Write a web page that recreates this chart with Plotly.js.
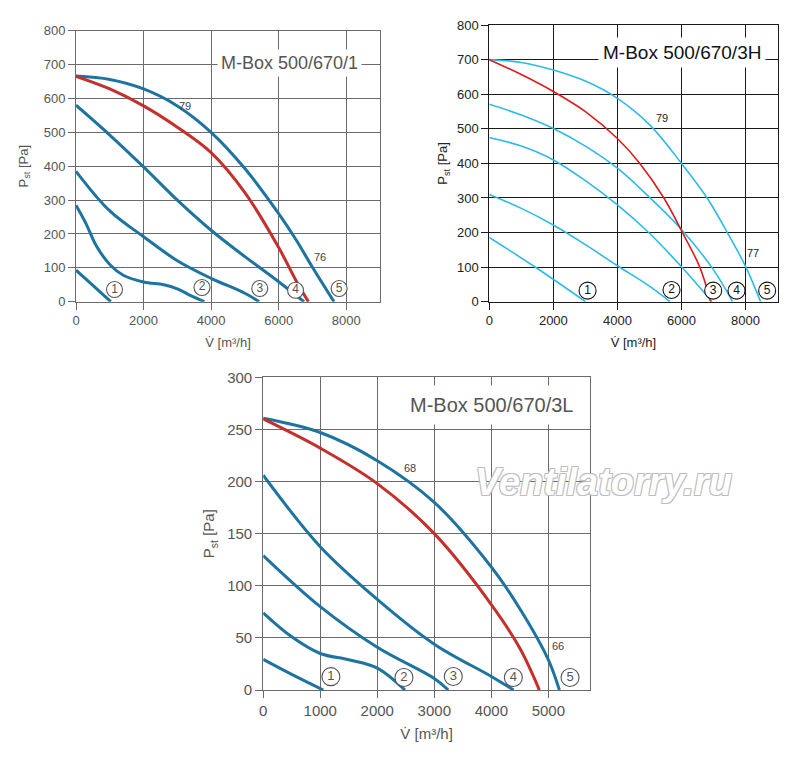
<!DOCTYPE html>
<html><head><meta charset="utf-8">
<script src="https://cdn.plot.ly/plotly-3.0.1.min.js"></script>
<style>html,body{margin:0;padding:0;background:#fff}#chart{width:800px;height:760px}</style>
</head><body><div id="chart"></div>
<script>
// ---------- Chart A: M-Box 500/670/1 ----------
const titleA = "M-Box 500/670/1";
const a1_flow = [0, 500, 1030];
const a1_pres = [93, 48, 0];
const a2_flow = [0, 300, 600, 1000, 1400, 2000, 2600, 3000, 3400, 3800];
const a2_pres = [285, 230, 165, 110, 78, 58, 50, 38, 18, 0];
const a3_flow = [0, 1000, 2000, 3000, 4000, 5000, 5420];
const a3_pres = [385, 268, 192, 121, 69, 25, 0];
const a4_flow = [0, 1000, 2000, 3000, 4000, 5000, 6000, 6750];
const a4_pres = [580, 492, 398, 300, 211, 133, 59, 0];
const a5_flow = [0, 1000, 2000, 3000, 4000, 5000, 6000, 6500, 7000, 7640];
const a5_pres = [666, 656, 628, 578, 500, 393, 260, 185, 102, 0];
const aR_flow = [0, 1000, 2000, 3000, 4000, 5000, 6000, 6500, 6880];
const aR_pres = [665, 628, 578, 515, 440, 322, 160, 65, 0];
const aLbl_flow = [1140, 3730, 5440, 6500, 7790];
const aLbl_pres = [36, 42, 39, 34, 39];
const aNoise_flow = [3240, 7230];
const aNoise_pres = [579, 133];
const aNoise_text = ["79", "76"];

// ---------- Chart B: M-Box 500/670/3H ----------
const titleB = "M-Box 500/670/3H";
const b1_flow = [0, 1500, 3006];
const b1_pres = [186, 96, 0];
const b2_flow = [0, 1000, 2000, 3000, 4000, 5000, 5640];
const b2_pres = [310, 270, 222, 165, 104, 45, 0];
const b3_flow = [0, 1000, 2000, 3000, 4000, 5000, 6000, 6950];
const b3_pres = [475, 450, 410, 350, 280, 198, 101, 0];
const b4_flow = [0, 1000, 2000, 3000, 4000, 5000, 6000, 7000, 7594];
const b4_pres = [571, 540, 501, 450, 386, 302, 209, 92, 0];
const b5_flow = [0, 1000, 2000, 3000, 4000, 5000, 6000, 6800, 7430, 8010, 8470];
const b5_pres = [700, 692, 670, 638, 588, 512, 400, 300, 200, 100, 0];
const bR_flow = [0, 1000, 2000, 3000, 4000, 4700, 5450, 6030, 6570, 6910];
const bR_pres = [700, 657, 608, 550, 472, 400, 300, 200, 100, 0];
const bLbl_flow = [3068, 5689, 6989, 7717, 8674];
const bLbl_pres = [32, 34, 32, 32, 32];
const bNoise_flow = [5380, 8240];
const bNoise_pres = [530, 140];
const bNoise_text = ["79", "77"];

// ---------- Chart C: M-Box 500/670/3L ----------
const titleC = "M-Box 500/670/3L";
const c1_flow = [0, 500, 1053];
const c1_pres = [29.4, 15, 0];
const c2_flow = [0, 500, 1000, 1500, 2000, 2485];
const c2_pres = [74, 51, 35, 29, 21, 0];
const c3_flow = [0, 1000, 2000, 3000, 3245];
const c3_pres = [129, 80, 41, 11, 0];
const c4_flow = [0, 1000, 2000, 3000, 4000, 4390];
const c4_pres = [206, 137.5, 87, 44, 13, 0];
const c5_flow = [0, 1000, 2000, 3000, 4000, 4500, 5000, 5193];
const c5_pres = [260.6, 247, 220, 180, 118, 78, 29, 0];
const cR_flow = [0, 1000, 2000, 3000, 4000, 4500, 4842];
const cR_pres = [260, 232, 198, 150, 82, 40, 0];
const cLbl_flow = [1187, 2468, 3333, 4386, 5380];
const cLbl_pres = [12.8, 12, 13, 12, 12];
const cNoise_flow = [2573, 5175];
const cNoise_pres = [213, 42.5];
const cNoise_text = ["68", "66"];

const circleText = ["1", "2", "3", "4", "5"];
const watermark = "Ventilatorry.ru";
const xTitle = "V\u0307 [m³/h]";
const yTitle = "P<sub>st</sub> [Pa]";

const FONT = "Liberation Sans, Arial, sans-serif";
const traces = [];
const annotations = [];
function curve(x, y, ax, color, width) {
  traces.push({x: x, y: y, xaxis: 'x' + ax, yaxis: 'y' + ax, type: 'scatter', mode: 'lines',
    line: {color: color, width: width, shape: 'spline', smoothing: 1}, hoverinfo: 'skip', showlegend: false});
}
function circles(x, y, ax, size, col, fs) {
  traces.push({x: x, y: y, xaxis: 'x' + ax, yaxis: 'y' + ax, type: 'scatter', mode: 'markers+text',
    text: circleText, textposition: 'middle center',
    textfont: {family: FONT, size: fs, color: col},
    marker: {symbol: 'circle', size: size, color: '#ffffff', line: {color: col, width: 1.1}},
    hoverinfo: 'skip', showlegend: false});
}
function noise(x, y, t, ax, col) {
  for (let i = 0; i < x.length; i++) {
    annotations.push({text: t[i], xref: 'x' + ax, yref: 'y' + ax, x: x[i], y: y[i], showarrow: false,
      xanchor: 'center', yanchor: 'middle', font: {family: FONT, size: 11, color: col}});
  }
}

const TEAL = '#1e74a0', REDD = '#c4302b';
const CYAN = '#2bbbe6', REDB = '#e01b1b';
// A
[[a1_flow,a1_pres],[a2_flow,a2_pres],[a3_flow,a3_pres],[a4_flow,a4_pres],[a5_flow,a5_pres]].forEach(p => curve(p[0], p[1], '', TEAL, 3));
curve(aR_flow, aR_pres, '', REDD, 3);
circles(aLbl_flow, aLbl_pres, '', 16, '#555', 12);
noise(aNoise_flow, aNoise_pres, aNoise_text, '', '#444');
// B
[[b1_flow,b1_pres],[b2_flow,b2_pres],[b3_flow,b3_pres],[b4_flow,b4_pres],[b5_flow,b5_pres]].forEach(p => curve(p[0], p[1], '2', CYAN, 1.6));
curve(bR_flow, bR_pres, '2', REDB, 1.6);
circles(bLbl_flow, bLbl_pres, '2', 17, '#111', 12);
noise(bNoise_flow, bNoise_pres, bNoise_text, '2', '#222');
// C
[[c1_flow,c1_pres],[c2_flow,c2_pres],[c3_flow,c3_pres],[c4_flow,c4_pres],[c5_flow,c5_pres]].forEach(p => curve(p[0], p[1], '3', TEAL, 3));
curve(cR_flow, cR_pres, '3', REDD, 3);
circles(cLbl_flow, cLbl_pres, '3', 18, '#555', 13);
noise(cNoise_flow, cNoise_pres, cNoise_text, '3', '#444');

function xax(dom, range, dtick, grid, tcol, fs, anchor) {
  return {domain: dom, range: range, dtick: dtick, tick0: 0, anchor: anchor, showgrid: true, gridcolor: grid, gridwidth: 1,
    zeroline: false, showline: true, linecolor: grid, linewidth: 1, mirror: true,
    ticks: 'outside', ticklen: 7, tickcolor: grid, tickfont: {family: FONT, size: fs, color: tcol},
    title: {text: xTitle, font: {family: FONT, size: fs, color: tcol}, standoff: 10}, fixedrange: true};
}
function yax(dom, range, dtick, grid, tcol, fs, anchor, standoff) {
  return {domain: dom, range: range, dtick: dtick, tick0: 0, anchor: anchor, showgrid: true, gridcolor: grid, gridwidth: 1,
    zeroline: false, showline: true, linecolor: grid, linewidth: 1, mirror: true,
    ticks: 'outside', ticklen: 7, tickcolor: grid, tickfont: {family: FONT, size: fs, color: tcol},
    title: {text: yTitle, font: {family: FONT, size: fs, color: tcol}, standoff: standoff}, fixedrange: true};
}

annotations.push(
  {text: titleA, xref: 'x', yref: 'y', x: 6320, y: 704, showarrow: false, xanchor: 'center', yanchor: 'middle',
   bgcolor: '#ffffff', borderpad: 3, font: {family: FONT, size: 18, color: '#555'}},
  {text: titleB, xref: 'x2', yref: 'y2', x: 6010, y: 720, showarrow: false, xanchor: 'center', yanchor: 'middle',
   bgcolor: '#ffffff', borderpad: 4, font: {family: FONT, size: 19, color: '#111'}},
  {text: titleC, xref: 'x3', yref: 'y3', x: 4010, y: 273, showarrow: false, xanchor: 'center', yanchor: 'middle',
   bgcolor: '#ffffff', borderpad: 8, font: {family: FONT, size: 20, color: '#555'}},
  {text: watermark, xref: 'paper', yref: 'paper', x: 0.754, y: 0.366, showarrow: false, xanchor: 'center', yanchor: 'middle',
   font: {family: FONT, size: 38, color: '#ffffff', style: 'italic', weight: 'bold',
          shadow: '-1px -1px 0 #bdbdbd, 1px -1px 0 #bdbdbd, -1px 1px 0 #bdbdbd, 1px 1px 0 #bdbdbd'}}
);

const layout = {
  width: 800, height: 760, margin: {l: 0, r: 0, t: 0, b: 0},
  paper_bgcolor: '#ffffff', plot_bgcolor: '#ffffff', showlegend: false,
  xaxis: xax([0.095, 0.475], [0, 9000], 2000, '#6b6b6b', '#555', 13, 'y'),
  yaxis: yax([0.603, 0.9596], [0, 800], 100, '#6b6b6b', '#555', 13, 'x', 12),
  xaxis2: xax([0.6116, 0.972], [0, 9000], 2000, '#1a1a1a', '#222', 13, 'y2'),
  yaxis2: yax([0.603, 0.967], [0, 800], 100, '#1a1a1a', '#222', 13, 'x2', 6),
  xaxis3: xax([0.329, 0.7375], [0, 5730], 1000, '#6b6b6b', '#555', 15, 'y3'),
  yaxis3: yax([0.0921, 0.5036], [0, 300], 50, '#6b6b6b', '#555', 15, 'x3', 8),
  annotations: annotations
};

Plotly.newPlot('chart', traces, layout, {staticPlot: true, displayModeBar: false});
</script>
</body></html>
